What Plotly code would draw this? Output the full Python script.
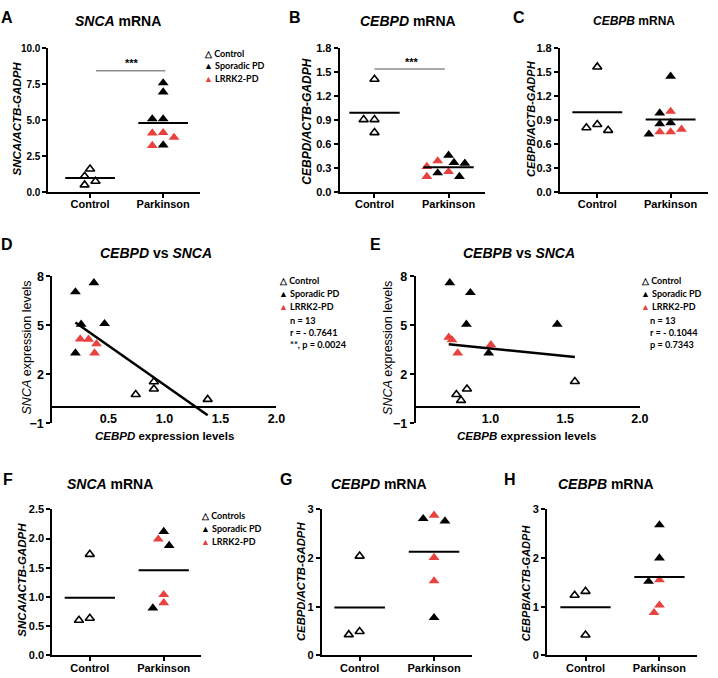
import numpy as np
import plotly.graph_objects as go

# ---------------- data ----------------
groups = ["Control", "Parkinson"]

# A: SNCA mRNA
snca_ctrl = [1.1, 1.6, 0.5, 0.75]
snca_spor = [7.58, 6.95, 5.08, 5.08, 3.27]
snca_lrrk2 = [4.13, 3.8, 4.1, 3.23]
# B: CEBPD mRNA
cebpd_ctrl = [1.41, 0.906, 0.906, 0.744]
cebpd_spor = [0.46, 0.37, 0.24, 0.36, 0.195]
cebpd_lrrk2 = [0.32, 0.255, 0.39, 0.195]
# C: CEBPB mRNA
cebpb_ctrl = [1.565, 0.845, 0.772, 0.805]
cebpb_spor = [1.447, 0.988, 0.854, 0.866, 0.724]
cebpb_lrrk2 = [1.008, 0.752, 0.785, 0.752]

# D: CEBPD vs SNCA
d_ctrl_x = [0.744, 0.906, 0.906, 1.386]
d_ctrl_y = [0.76, 1.54, 1.1, 0.46]
d_spor_x = [0.206, 0.371, 0.257, 0.466, 0.206]
d_spor_y = [7.04, 7.6, 5.06, 5.1, 3.3]
d_lrrk2_x = [0.249, 0.323, 0.394, 0.377]
d_lrrk2_y = [4.16, 4.14, 3.86, 3.3]
d_stats = ["n = 13", "r = - 0.7641", "**, p = 0.0024"]

# E: CEBPB vs SNCA
e_ctrl_x = [1.565, 0.843, 0.772, 0.803]
e_ctrl_y = [1.56, 1.1, 0.76, 0.4]
e_spor_x = [0.728, 0.866, 0.839, 1.447, 0.988]
e_spor_y = [7.6, 7.0, 5.06, 5.06, 3.3]
e_lrrk2_x = [0.721, 0.743, 1.003, 0.781]
e_lrrk2_y = [4.26, 4.1, 3.8, 3.3]
e_stats = ["n = 13", "r = - 0.1044", "p = 0.7343"]

# F: SNCA mRNA (second cohort)
snca2_ctrl = [1.73, 0.60, 0.635]
snca2_spor = [2.12, 1.88, 0.81]
snca2_lrrk2 = [1.99, 1.04, 0.90]
# G: CEBPD mRNA (second cohort)
cebpd2_ctrl = [2.04, 0.425, 0.49]
cebpd2_spor = [2.81, 2.76, 0.775]
cebpd2_lrrk2 = [2.88, 2.01, 1.53]
# H: CEBPB mRNA (second cohort)
cebpb2_ctrl = [1.315, 1.234, 0.418]
cebpb2_spor = [2.68, 2.0, 1.52]
cebpb2_lrrk2 = [1.55, 0.877, 1.03]

# ---------------- layout helpers ----------------
W, H = 718, 678
FONT = "Liberation Sans"
LEGFONT = "Lato"
RED = "#e8413e"


def fx(px):
    return px / W


def fy(py):
    return 1 - py / H


def swarm(vals, px_x, px_y, step=5.5, w=10.0, h=8.0):
    """Simple deterministic beeswarm: returns x offsets (axis units)."""
    placed, offs = [], []
    seq = [0, -1, 1, -2, 2, -3, 3, -4, 4]
    for v in vals:
        y = v * px_y
        x = 0.0
        for k in seq:
            x = k * step
            if all(((x - a) / w) ** 2 + ((y - b) / h) ** 2 >= 1 for a, b in placed):
                break
        placed.append((x, y))
        offs.append(x / px_x)
    return offs


fig = go.Figure()
layout = dict(
    width=W, height=H, margin=dict(l=0, r=0, t=0, b=0, pad=0), autosize=False,
    paper_bgcolor="white", plot_bgcolor="white", showlegend=False,
    font=dict(family=FONT, color="black"),
)
annotations = []
shapes = []


def ann(px, py, text, size=11, xanchor="center", yanchor="middle", angle=0, family=FONT,
        color="black", weight=None):
    f = dict(size=size, family=family, color=color)
    if weight:
        f["weight"] = weight
    annotations.append(dict(
        x=fx(px), y=fy(py), xref="paper", yref="paper", text=text, showarrow=False,
        xanchor=xanchor, yanchor=yanchor, textangle=angle, font=f,
        align="left" if xanchor == "left" else "center",
    ))


def axis_common(size=11):
    return dict(showline=True, linewidth=2, linecolor="black", ticks="outside", ticklen=4,
                tickwidth=2, tickcolor="black", showgrid=False, zeroline=False,
                tickfont=dict(size=size, family=FONT, weight="bold", color="black"))


def legend_block(px, py, first="Control", gap=13.2):
    ann(px, py, "△ " + first, size=9, xanchor="left", family=LEGFONT, weight="bold")
    ann(px, py + gap, "▲ Sporadic PD", size=9, xanchor="left", family=LEGFONT, weight="bold")
    ann(px, py + 2 * gap, f"<span style='color:{RED}'>▲</span> LRRK2-PD", size=9,
        xanchor="left", family=LEGFONT, weight="bold")


def cat_panel(i, ctrl, spor, lrrk2, xdom, ydom, xr, yr, yticks, yfmt, ysize=11):
    sx = "" if i == 1 else str(i)
    xa, ya = "x" + sx, "y" + sx
    px_x = (xdom[1] - xdom[0]) / (xr[1] - xr[0])
    px_y = (ydom[1] - ydom[0]) / (yr[1] - yr[0])
    # control column
    c_vals = sorted(ctrl, reverse=True)
    c_off = swarm(c_vals, px_x, px_y)
    fig.add_trace(go.Scatter(
        x=[0 + o for o in c_off], y=c_vals, mode="markers", xaxis=xa, yaxis=ya, cliponaxis=False,
        marker=dict(symbol="triangle-up", size=8, color="white", line=dict(color="black", width=1.6))))
    # parkinson column (both series share the swarm)
    pts = [(v, "s") for v in spor] + [(v, "l") for v in lrrk2]
    pts.sort(key=lambda t: -t[0])
    p_off = swarm([p[0] for p in pts], px_x, px_y)
    for tag, col in (("s", "black"), ("l", RED)):
        xs = [1 + o for o, p in zip(p_off, pts) if p[1] == tag]
        ys = [p[0] for p in pts if p[1] == tag]
        fig.add_trace(go.Scatter(
            x=xs, y=ys, mode="markers", xaxis=xa, yaxis=ya, cliponaxis=False,
            marker=dict(symbol="triangle-up", size=9.5, color=col, line=dict(width=0))))
    # mean lines
    hw = 0.34
    for gi, vals in enumerate([ctrl, list(spor) + list(lrrk2)]):
        m = float(np.mean(vals))
        fig.add_trace(go.Scatter(x=[gi - hw, gi + hw], y=[m, m], mode="lines", xaxis=xa, yaxis=ya,
                                 line=dict(color="black", width=2), hoverinfo="skip"))
    xaxis = axis_common(11)
    xaxis.update(domain=[fx(xdom[0]), fx(xdom[1])], range=xr, tickvals=[0, 1], ticktext=groups,
                 anchor=ya, ticklabelstandoff=-3)
    yaxis = axis_common(ysize)
    yaxis.update(domain=[fy(ydom[1]), fy(ydom[0])], range=yr, tickvals=yticks, tickformat=yfmt,
                 anchor=xa)
    layout["xaxis" + sx] = xaxis
    layout["yaxis" + sx] = yaxis


def xy_panel(i, cx, cy, sx_, sy_, lx, ly, xdom, ydom, xr, yr, xticks):
    s = str(i)
    xa, ya = "x" + s, "y" + s
    fig.add_trace(go.Scatter(x=cx, y=cy, mode="markers", xaxis=xa, yaxis=ya, cliponaxis=False,
                             marker=dict(symbol="triangle-up", size=8, color="white",
                                         line=dict(color="black", width=1.6))))
    fig.add_trace(go.Scatter(x=sx_, y=sy_, mode="markers", xaxis=xa, yaxis=ya, cliponaxis=False,
                             marker=dict(symbol="triangle-up", size=9.5, color="black", line=dict(width=0))))
    fig.add_trace(go.Scatter(x=lx, y=ly, mode="markers", xaxis=xa, yaxis=ya, cliponaxis=False,
                             marker=dict(symbol="triangle-up", size=9.5, color=RED, line=dict(width=0))))
    allx = np.array(list(cx) + list(sx_) + list(lx))
    ally = np.array(list(cy) + list(sy_) + list(ly))
    slope, icpt = np.polyfit(allx, ally, 1)
    x0, x1 = allx.min(), allx.max()
    fig.add_trace(go.Scatter(x=[x0, x1], y=[icpt + slope * x0, icpt + slope * x1], mode="lines",
                             xaxis=xa, yaxis=ya, cliponaxis=False,
                             line=dict(color="black", width=2.5), hoverinfo="skip"))
    yb, yt = fy(ydom[1]), fy(ydom[0])
    pos0 = yb + (0 - yr[0]) / (yr[1] - yr[0]) * (yt - yb)
    xaxis = axis_common(12.5)
    xaxis.update(domain=[fx(xdom[0]), fx(xdom[1])], range=xr, tickvals=xticks, tickformat=".1f",
                 anchor="free", position=pos0, ticks="", ticklen=0)
    yaxis = axis_common(12.5)
    yaxis.update(domain=[yb, yt], range=yr, tickvals=[8, 5, 2, -1], anchor=xa)
    layout["xaxis" + s] = xaxis
    layout["yaxis" + s] = yaxis


# ---------------- panels ----------------
cat_panel(1, snca_ctrl, snca_spor, snca_lrrk2, (49, 203), (42, 189), [-0.57, 1.51], [0, 10],
          [0, 2.5, 5, 7.5, 10], ".1f", ysize=10)
cat_panel(2, cebpd_ctrl, cebpd_spor, cebpd_lrrk2, (344, 491), (42, 189), [-0.47, 1.49], [0, 1.8],
          [0, 0.3, 0.6, 0.9, 1.2, 1.5, 1.8], ".1f")
cat_panel(3, cebpb_ctrl, cebpb_spor, cebpb_lrrk2, (567, 717), (42, 189), [-0.51, 1.51], [0, 1.8],
          [0, 0.3, 0.6, 0.9, 1.2, 1.5, 1.8], ".1f")
xy_panel(4, d_ctrl_x, d_ctrl_y, d_spor_x, d_spor_y, d_lrrk2_x, d_lrrk2_y, (53, 280), (275, 425),
         [0, 2], [-1, 8], [0.5, 1.0, 1.5, 2.0])
xy_panel(5, e_ctrl_x, e_ctrl_y, e_spor_x, e_spor_y, e_lrrk2_x, e_lrrk2_y, (421, 648), (275, 425),
         [0.5, 2], [-1, 8], [1.0, 1.5, 2.0])
cat_panel(6, snca2_ctrl, snca2_spor, snca2_lrrk2, (53, 204), (513, 662), [-0.507, 1.51], [0, 2.5],
          [0, 0.5, 1.0, 1.5, 2.0, 2.5], ".1f")
cat_panel(7, cebpd2_ctrl, cebpd2_spor, cebpd2_lrrk2, (326, 478), (513, 662), [-0.507, 1.51], [0, 3],
          [0, 1, 2, 3], "d")
cat_panel(8, cebpb2_ctrl, cebpb2_spor, cebpb2_lrrk2, (554, 706), (513, 662), [-0.52, 1.51], [0, 3],
          [0, 1, 2, 3], "d")

# ---------------- text ----------------
for letter, px, py in [("A", 7, 11), ("B", 299, 11), ("C", 526, 11), ("D", 7, 243), ("E", 380, 243),
                       ("F", 8, 482), ("G", 290, 482), ("H", 516, 482)]:
    ann(px, py, f"<b>{letter}</b>", size=16)

for txt, px, py, sz in [("<b><i>SNCA</i> mRNA</b>", 120, 14, 14), ("<b><i>CEBPD</i> mRNA</b>", 413, 14, 14),
                        ("<b><i>CEBPB</i> mRNA</b>", 642, 14, 12),
                        ("<b><i>CEBPD</i> vs <i>SNCA</i></b>", 158, 251, 14),
                        ("<b><i>CEBPB</i> vs <i>SNCA</i></b>", 526, 251, 14),
                        ("<b><i>SNCA</i> mRNA</b>", 111, 487, 14), ("<b><i>CEBPD</i> mRNA</b>", 384, 487, 14),
                        ("<b><i>CEBPB</i> mRNA</b>", 614, 487, 14)]:
    ann(px, py, txt, size=sz)

for txt, px, py, sz in [("SNCA/ACTB-GADPH", 17, 114, 11.5), ("CEBPD/ACTB-GADPH", 310, 117, 12),
                        ("CEBPB/ACTB-GADPH", 537, 114, 11), ("SNCA/ACTB-GADPH", 22, 585, 11.5),
                        ("CEBPD/ACTB-GADPH", 305, 587, 11.3), ("CEBPB/ACTB-GADPH", 533, 588, 11)]:
    ann(px, py, f"<b><i>{txt}</i></b>", size=sz, angle=-90)

ann(27, 348, "<i>SNCA</i> expression levels", size=12.5, angle=-90)
ann(393, 348, "<i>SNCA</i> expression levels", size=12.5, angle=-90)
ann(167, 438, "<b><i>CEBPD</i> expression levels</b>", size=11.5)
ann(533, 438, "<b><i>CEBPB</i> expression levels</b>", size=11.5)

# significance bars
shapes.append(dict(type="line", xref="x", yref="y", x0=0.08, x1=1.03, y0=8.43, y1=8.43,
                   line=dict(color="#8c8c8c", width=1.5)))
ann(134, 57, "<b>***</b>", size=11)
shapes.append(dict(type="line", xref="x2", yref="y2", x0=0.0, x1=0.95, y0=1.54, y1=1.54,
                   line=dict(color="#8c8c8c", width=1.5)))
ann(417, 56, "<b>***</b>", size=11)

# legends
legend_block(205, 47)
legend_block(281, 279)
legend_block(647, 279)
legend_block(202, 519, first="Controls")
ann(292, 312, "<br>".join(d_stats), size=9.2, xanchor="left", yanchor="top", family=LEGFONT,
    weight="bold")
ann(656, 312, "<br>".join(e_stats), size=9.2, xanchor="left", yanchor="top", family=LEGFONT,
    weight="bold")

layout["annotations"] = annotations
layout["shapes"] = shapes
fig.update_layout(**layout)
fig.write_html(
    "out.html",
    config={"displayModeBar": False},
    post_script="document.body.style.margin='0';document.body.style.padding='0';"
                "document.body.style.overflow='hidden';",
)
